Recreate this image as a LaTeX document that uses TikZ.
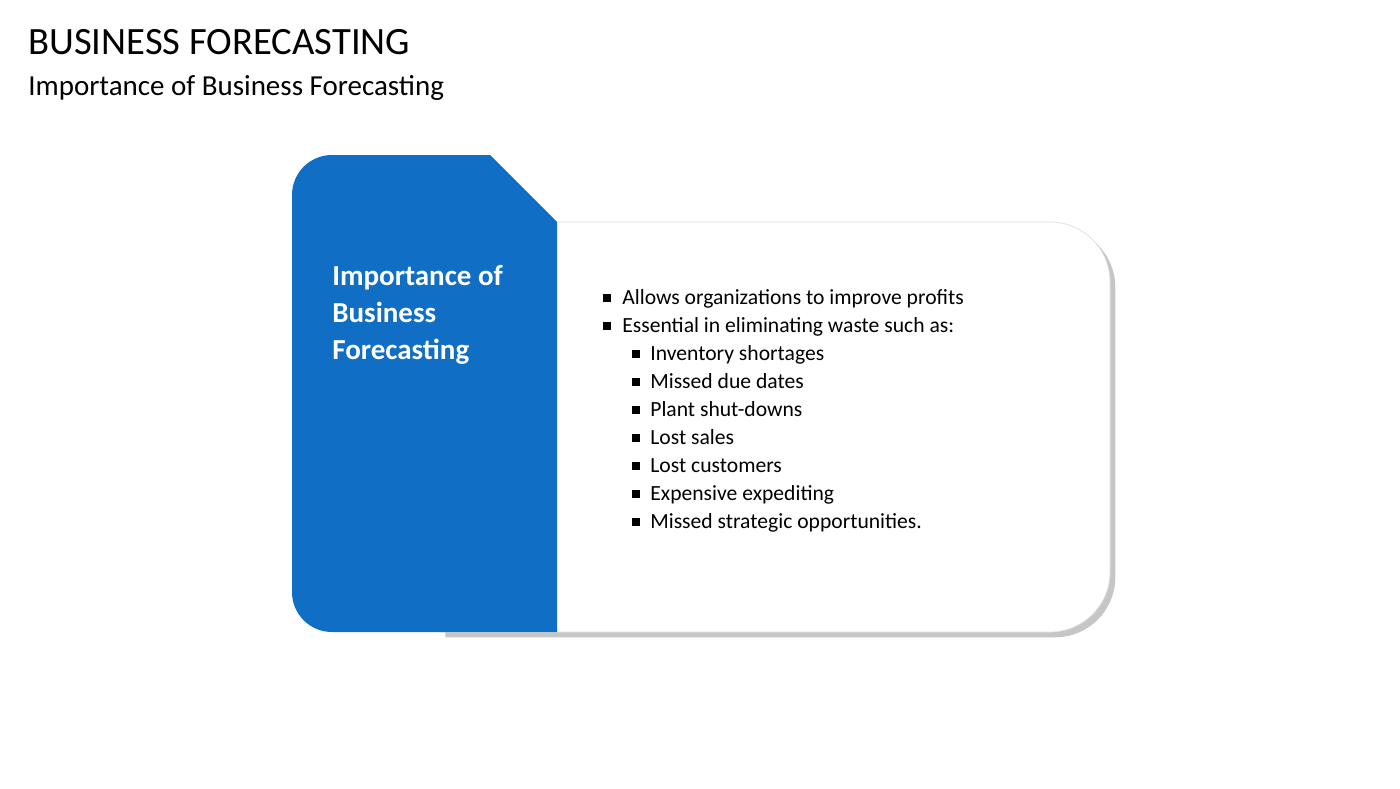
\documentclass[tikz,border=0pt]{standalone}
\usepackage{fontspec}
\setmainfont{Carlito}
\usetikzlibrary{shadows}
\definecolor{fcblue}{RGB}{17,110,197}
\tikzset{
  item/.style={anchor=base west, font=\fontsize{12.3}{15}\selectfont, inner sep=0pt},
  bullet/.style={fill=black, minimum size=4.2pt, inner sep=0pt}
}
\begin{document}
\begin{tikzpicture}[x=0.02cm, y=-0.02cm]
    \useasboundingbox (0,0) rectangle (1400,788);
    \node[anchor=base west, inner sep=0pt, font=\fontsize{22}{26}\selectfont] (title) at (28,54) {BUSINESS FORECASTING};
    \node[anchor=base west, inner sep=0pt, font=\fontsize{16.5}{20}\selectfont] (subtitle) at (28,95) {Importance of Business Forecasting};

    % white panel
    \draw[draw=gray!25, fill=white, drop shadow={shadow xshift=3pt, shadow yshift=-3pt, opacity=0.45}]
        (440,222) -- (1050,222) to[out=0, in=90] (1110,282) -- (1110,572) to[out=-90, in=0] (1050,632) -- (440,632) -- cycle;
    % blue tab
    \fill[fcblue] (292,195) to[out=90, in=180] (332,155) -- (490,155) -- (557,222) -- (557,632) -- (332,632) to[out=180, in=-90] (292,592) -- cycle;
    \node[anchor=base west, align=left, text=white, inner sep=0pt,
          font=\fontsize{16.5}{21}\bfseries\selectfont] (head) at (332,359)
          {Importance of\\Business\\Forecasting};

    \foreach \txt [count=\i] in {Allows organizations to improve profits,
                                 Essential in eliminating waste such as:} {
        \node[item] (top\i) at (622, {304+28*(\i-1)}) {\txt};
        \node[bullet] (tb\i) at (607, {298+28*(\i-1)}) {};
    }
    \foreach \txt [count=\i] in {Inventory shortages, Missed due dates, Plant shut-downs,
                                 Lost sales, Lost customers, Expensive expediting,
                                 Missed strategic opportunities.} {
        \node[item] (sub\i) at (650, {360+28*(\i-1)}) {\txt};
        \node[bullet] (sb\i) at (636, {354+28*(\i-1)}) {};
    }
\end{tikzpicture}
\end{document}
